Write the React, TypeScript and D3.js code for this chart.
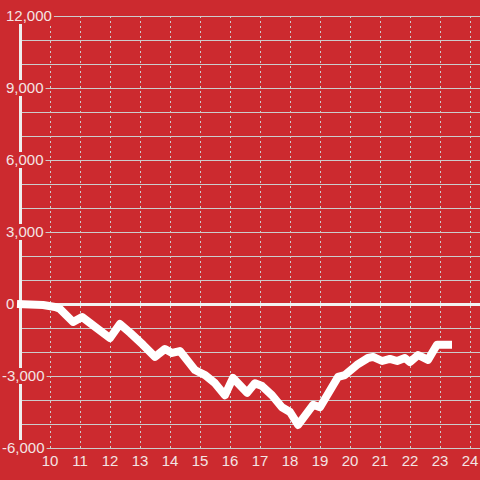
import React from "react";
import * as d3 from "d3";

const hours = [8.9, 9.77, 10.17, 10.33, 10.77, 11.07, 12.0, 12.33, 12.67, 13.1, 13.5, 13.83, 14.07, 14.33, 14.83, 15.17, 15.5, 15.83, 16.1, 16.57, 16.83, 17.07, 17.4, 17.73, 18.0, 18.27, 18.77, 19.0, 19.6, 19.83, 20.23, 20.6, 20.77, 21.07, 21.33, 21.57, 21.83, 22.0, 22.27, 22.6, 22.9, 23.4];
const values = [0, -40, -125, -200, -750, -540, -1420, -830, -1200, -1700, -2200, -1875, -2040, -1960, -2750, -2960, -3300, -3800, -3080, -3700, -3300, -3420, -3800, -4300, -4500, -5040, -4200, -4300, -3040, -2960, -2540, -2250, -2200, -2375, -2290, -2375, -2250, -2420, -2125, -2330, -1700, -1700];
const xTicks = [10, 11, 12, 13, 14, 15, 16, 17, 18, 19, 20, 21, 22, 23, 24];
const yLabelTicks = [12000, 9000, 6000, 3000, 0, -3000, -6000];
const yGridTicks = d3.range(-6000, 12001, 1000);

const BG = "#cc2a2f";
const TEXT = "#f3e4e4";
const GRID = "#cccccc";

export default function App() {
  const W = 480, H = 480;
  const x = d3.scaleLinear().domain([10, 24]).range([50, 470]);
  const y = d3.scaleLinear().domain([-6000, 12000]).range([448, 16]);
  const fmt = d3.format(",");
  const line = d3.line<number>().x((_, i) => x(hours[i])).y((d) => y(d));

  return (
    <svg width={W} height={H} style={{ position: "fixed", left: 0, top: 0, background: BG }}
      fontFamily="'Liberation Sans', Arial, sans-serif">
      <rect x={0} y={0} width={W} height={H} fill={BG} />
      {yGridTicks.filter((t) => t !== 0).map((t) => (
        <line key={"h" + t} x1={20} x2={W} y1={y(t) + 0.5} y2={y(t) + 0.5} stroke={GRID} strokeWidth={1} />
      ))}
      {xTicks.map((t) => (
        <line key={"v" + t} x1={x(t) + 0.5} x2={x(t) + 0.5} y1={y(12000)} y2={y(-6000)} stroke={GRID} strokeWidth={1} strokeDasharray="2,3" />
      ))}
      <line x1={20.5} x2={20.5} y1={y(12000)} y2={y(-6000)} stroke="#efefef" strokeWidth={3} />
      <line x1={17} x2={W} y1={y(0) + 0.5} y2={y(0) + 0.5} stroke="#f2f2f2" strokeWidth={3} />
      {yLabelTicks.map((t) => {
        const s = fmt(t).replace("−", "-");
        const x0 = t < 0 ? 2 : 6;
        const w = s.length * 8.34 - (s.includes(",") ? 4.17 : 0) - (t < 0 ? 3.3 : 0);
        return (
          <g key={"yl" + t}>
            <rect x={x0 - 2} y={y(t) - 8} width={w + 4} height={16} fill={BG} />
            <text x={x0} y={y(t)} dy="0.35em" fontSize={15} fill={TEXT}>{s}</text>
          </g>
        );
      })}
      {xTicks.map((t) => (
        <text key={"xl" + t} x={x(t)} y={466} textAnchor="middle" fontSize={15} fill={TEXT}>{t}</text>
      ))}
      <path d={line(values) || ""} fill="none" stroke="#ffffff" strokeWidth={8} strokeLinejoin="round" strokeLinecap="butt" />
    </svg>
  );
}
